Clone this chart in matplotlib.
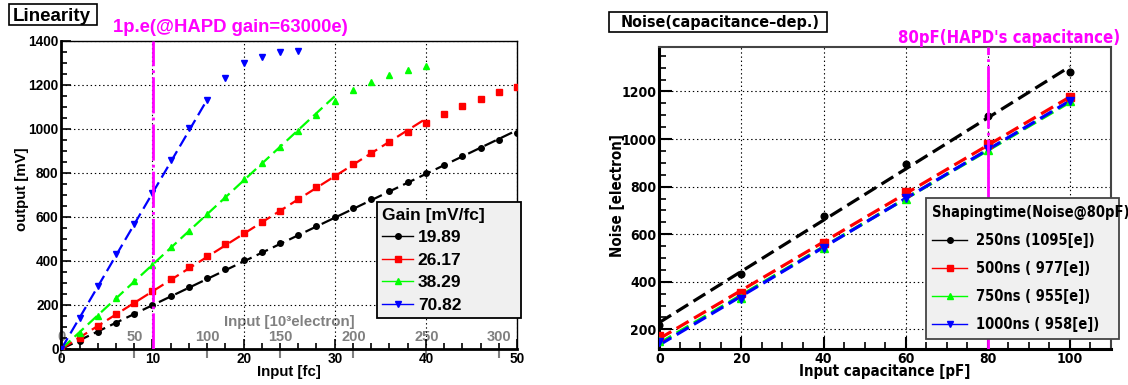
import numpy as np
import matplotlib.pyplot as plt
from matplotlib.lines import Line2D
from matplotlib.patches import Rectangle

plt.rcParams['lines.scale_dashes'] = False
plt.rcParams['font.family'] = ['Liberation Sans', 'DejaVu Sans']
plt.rcParams['font.weight'] = 'bold'
plt.rcParams['axes.labelweight'] = 'bold'

# --- left panel: output [mV] vs input charge [fC] ---
fc_full = [0, 2, 4, 6, 8, 10, 12, 14, 16, 18, 20, 22, 24, 26, 28, 30, 32, 34, 36, 38, 40, 42, 44, 46, 48, 50]
fc_green = [0, 2, 4, 6, 8, 10, 12, 14, 16, 18, 20, 22, 24, 26, 28, 30, 32, 34, 36, 38, 40]
fc_blue = [0, 2, 4, 6, 8, 10, 12, 14, 16, 18, 20, 22, 24, 26]

out_1989 = [0, 38, 79, 120, 159, 199, 241, 280, 321, 362, 403, 442, 480, 519, 559, 599, 642, 680, 717, 758,
            800, 836, 876, 912, 948, 980]
out_2617 = [0, 51, 105, 158, 210, 264, 317, 371, 424, 477, 526, 578, 628, 683, 736, 788, 841, 891, 939, 986,
            1027, 1067, 1106, 1136, 1167, 1190]
out_3829 = [0, 74, 151, 230, 309, 382, 462, 535, 614, 692, 773, 844, 920, 992, 1064, 1127, 1177, 1215, 1245,
            1267, 1286]
out_7082 = [0, 142, 286, 430, 570, 709, 859, 1006, 1132, 1230, 1301, 1328, 1351, 1355]

gains = [19.89, 26.17, 38.29, 70.82]      # mV/fC, from the legend
fit_upper_fc = [50, 40, 30, 16]           # fit range of each dashed line
ke_per_fc = 6.2415                        # 10^3 electrons per fC
electron_ticks = [0, 50, 100, 150, 200, 250, 300]
hapd_gain_e = 63000

# --- right panel: noise [electron] vs input capacitance [pF] ---
cap_pf = [0, 20, 40, 60, 80, 100]
noise_250 = [218, 433, 675, 895, 1095, 1283]
noise_500 = [172, 351, 561, 776, 979, 1175]
noise_750 = [152, 333, 544, 748, 955, 1158]
noise_1000 = [146, 328, 540, 752, 958, 1162]
shaping_labels = ['250ns (1095[e])', '500ns ( 977[e])', '750ns ( 955[e])', '1000ns ( 958[e])']
hapd_cap_pf = 80

colors = ['black', '#ff0000', '#00ff00', '#0000ff']
markers = ['o', 's', '^', 'v']
msizes = [4, 4.3, 5, 5]
magenta = '#ff00ff'

W, H = 1128, 385
fig = plt.figure(figsize=(W / 100, H / 100), dpi=100)

# ================= left: Linearity =================
ax1 = fig.add_axes([61.3 / W, 36 / H, 455.7 / W, 308 / H])
xs = [fc_full, fc_full, fc_green, fc_blue]
ys = [out_1989, out_2617, out_3829, out_7082]
for x, y, g, fmax, c, m, ms in zip(xs, ys, gains, fit_upper_fc, colors, markers, msizes):
    ax1.plot(x, y, linestyle='none', marker=m, color=c, ms=ms, zorder=3)
    xx = np.array([0, fmax])
    ax1.plot(xx, g * xx, color=c, lw=1.6, dashes=(9, 4), zorder=2)

ax1.axvline(hapd_gain_e / (ke_per_fc * 1000), color=magenta, lw=2, dashes=(26, 3, 2, 3), zorder=4)

ax1.set_xlim(0, 50)
ax1.set_ylim(0, 1400)
ax1.set_xticks(range(0, 51, 10))
ax1.set_xticks(range(0, 51, 2), minor=True)
ax1.set_yticks(range(0, 1401, 200))
ax1.set_yticks(range(0, 1401, 50), minor=True)
ax1.grid(which='major', linestyle=(0, (1, 2)), color='black', lw=0.8)
ax1.tick_params(which='major', direction='in', length=7, width=1.2, labelsize=9.8, pad=2)
ax1.tick_params(which='minor', direction='in', length=4, width=1.2)
for s in ['left', 'bottom']:
    ax1.spines[s].set_linewidth(2)
for s in ['top', 'right']:
    ax1.spines[s].set_linewidth(1)

ax1.set_xlabel('Input [fc]', fontsize=10.8)
ax1.xaxis.set_label_coords(0.5, -0.052)
ax1.set_ylabel('output [mV]', fontsize=10.8)
ax1.yaxis.set_label_coords(-0.071, 0.52)

# secondary electron axis drawn inside, along the bottom
sec = ax1.secondary_xaxis(0.0, functions=(lambda f: f * ke_per_fc, lambda e: e / ke_per_fc))
sec.set_xticks(electron_ticks)
sec.tick_params(axis='x', which='major', direction='out', length=6.5, width=1.5, color='gray',
                labelcolor='gray', labelsize=10.5, bottom=True, top=False, labelbottom=False,
                labeltop=True, pad=-3)
sec.tick_params(axis='x', which='minor', length=0)
for s in sec.spines.values():
    s.set_visible(False)
sec.xaxis.set_label_position('top')
sec.set_xlabel('Input [10³electron]', color='gray', fontsize=10.8, labelpad=3)

handles = [Line2D([], [], color=c, marker=m, ms=ms, lw=1) for c, m, ms in zip(colors, markers, msizes)]
leg1 = ax1.legend(handles, [f'{g:.2f}' for g in gains], title='Gain [mV/fc]', loc='upper left',
                  bbox_to_anchor=(0.692, 0.476, 0.316, 0.0), mode='expand', fancybox=False,
                  framealpha=1, facecolor='#f0f0f0', edgecolor='black', borderaxespad=0,
                  handlelength=1.8, handletextpad=0.25, labelspacing=0.42, borderpad=0.32,
                  alignment='left', prop={'size': 12.5, 'weight': 'bold'},
                  title_fontproperties={'size': 12.5, 'weight': 'bold'})
leg1.get_frame().set_linewidth(1.3)
leg1.set_zorder(10)

fig.add_artist(Rectangle((9 / W, 1 - 25 / H), 88 / W, 21 / H, transform=fig.transFigure,
                         facecolor='white', edgecolor='black', lw=1.2))
fig.text(52 / W, 1 - 21.2 / H, 'Linearity', ha='center', va='baseline', fontsize=13.5)
fig.text(230 / W, 1 - 31.7 / H, '1p.e(@HAPD gain=63000e)', ha='center', va='baseline',
         fontsize=13.3, color=magenta)

# ================= right: Noise =================
dv = {'family': ['DejaVu Sans'], 'stretch': 'condensed'}
ax2 = fig.add_axes([659.3 / W, 35.7 / H, 451.7 / W, 302.3 / H])
noises = [noise_250, noise_500, noise_750, noise_1000]
for y, c, m, ms in zip(noises, colors, markers, msizes):
    ax2.plot(cap_pf, y, linestyle='none', marker=m, color=c, ms=ms + 0.8, zorder=3)
    k, b = np.polyfit(cap_pf, y, 1)
    xx = np.array([cap_pf[0], cap_pf[-1]])
    ax2.plot(xx, k * xx + b, color=c, lw=2.3, dashes=(10, 4.5), zorder=2)

ax2.axvline(hapd_cap_pf, color=magenta, lw=2, dashes=(45, 3, 2, 3), zorder=4)

ax2.set_xlim(0, 110)
ax2.set_ylim(116, 1387)
ax2.set_xticks(range(0, 101, 20))
ax2.set_xticks(range(0, 111, 5), minor=True)
ax2.set_yticks(range(200, 1201, 200))
ax2.set_yticks(range(150, 1386, 50), minor=True)
ax2.grid(which='major', linestyle=(0, (1, 2)), color='black', lw=0.8)
ax2.tick_params(which='major', direction='in', length=9, width=1.5, labelsize=10, pad=2)
ax2.tick_params(which='minor', direction='in', length=5, width=1.2)
for lab in ax2.get_xticklabels() + ax2.get_yticklabels():
    lab.set_family(dv['family'])
    lab.set_stretch(dv['stretch'])
for s in ['left', 'bottom']:
    ax2.spines[s].set_linewidth(2.2)
for s in ['top', 'right']:
    ax2.spines[s].set_linewidth(1.5)
    ax2.spines[s].set_color('#444444')

ax2.set_xlabel('Input capacitance [pF]', fontsize=10.8, **dv)
ax2.xaxis.set_label_coords(0.5, -0.05)
ax2.set_ylabel('Noise [electron]', fontsize=10.8, **dv)
ax2.yaxis.set_label_coords(-0.076, 0.507)

handles2 = [Line2D([], [], color=c, marker=m, ms=ms, lw=1) for c, m, ms in zip(colors, markers, msizes)]
leg2 = ax2.legend(handles2, shaping_labels, title='Shapingtime(Noise@80pF)', loc='upper left',
                  bbox_to_anchor=(0.590, 0.500, 0.428, 0.0), mode='expand', fancybox=False,
                  framealpha=1, facecolor='#f0f0f0', edgecolor='#444444', borderaxespad=0,
                  handlelength=2.4, handletextpad=0.6, labelspacing=0.9, borderpad=0.45,
                  alignment='left', prop={'size': 10.5, 'weight': 'bold', **dv},
                  title_fontproperties={'size': 10.5, 'weight': 'bold', **dv})
leg2.get_frame().set_linewidth(1.3)
leg2.set_zorder(10)

fig.add_artist(Rectangle((609 / W, 1 - 32 / H), 218 / W, 20 / H, transform=fig.transFigure,
                         facecolor='white', edgecolor='black', lw=1.2))
fig.text(720 / W, 1 - 26.7 / H, 'Noise(capacitance\u2013dep.)', ha='center', va='baseline',
         fontsize=11.5, **dv)
fig.text(1009 / W, 1 - 43 / H, "80pF(HAPD's capacitance)", ha='center', va='baseline',
         fontsize=12, color=magenta, **dv)

fig.savefig('out.png', dpi=100)
